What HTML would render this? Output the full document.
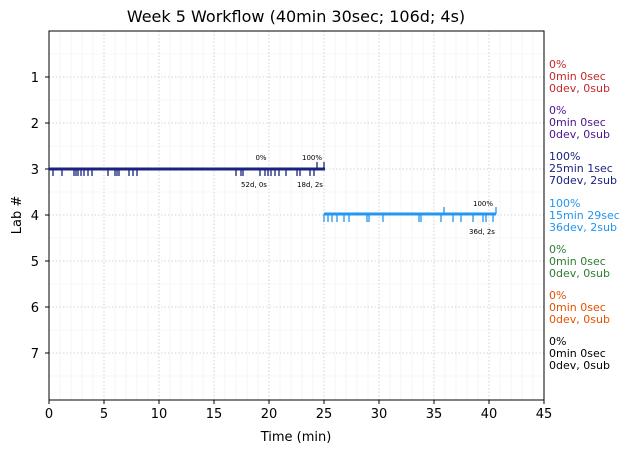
<!DOCTYPE html>
<html><head><meta charset="utf-8"><style>body{margin:0;background:#fff}svg{font-family:"DejaVu Sans","Liberation Sans",sans-serif}</style></head><body>
<svg width="630" height="453" viewBox="0 0 630 453" xmlns="http://www.w3.org/2000/svg">
<rect width="630" height="453" fill="#fff"/>
<text x="296" y="22" font-size="16" text-anchor="middle">Week 5 Workflow (40min 30sec; 106d; 4s)</text>
<g stroke="#f0f0f0" stroke-width="0.6">
<path d="M60 31V400M71 31V400M82 31V400M93 31V400M115 31V400M126 31V400M137 31V400M148 31V400M170 31V400M181 31V400M192 31V400M203 31V400M225 31V400M236 31V400M247 31V400M258 31V400M280 31V400M291 31V400M302 31V400M313 31V400M335 31V400M346 31V400M357 31V400M368 31V400M390 31V400M401 31V400M412 31V400M423 31V400M445 31V400M456 31V400M467 31V400M478 31V400M500 31V400M511 31V400M522 31V400M533 31V400"/>
<path d="M49 54H544M49 100H544M49 146H544M49 192H544M49 238H544M49 284H544M49 330H544M49 376H544"/>
</g>
<g stroke="#c8c8c8" stroke-width="0.8" stroke-dasharray="1.5,2">
<path d="M104 31V400M159 31V400M214 31V400M269 31V400M324 31V400M379 31V400M434 31V400M489 31V400"/>
<path d="M49 77H544M49 123H544M49 169H544M49 215H544M49 261H544M49 307H544M49 353H544"/>
</g>
<rect x="49" y="31" width="495" height="369" fill="none" stroke="#000" stroke-width="1"/>
<g stroke="#000"><path d="M49 400v4M104 400v4M159 400v4M214 400v4M269 400v4M324 400v4M379 400v4M434 400v4M489 400v4M544 400v4M49 77h-4M49 123h-4M49 169h-4M49 215h-4M49 261h-4M49 307h-4M49 353h-4"/></g>
<g font-size="13" text-anchor="middle">
<text x="49" y="418">0</text><text x="104" y="418">5</text><text x="159" y="418">10</text><text x="214" y="418">15</text><text x="269" y="418">20</text><text x="324" y="418">25</text><text x="379" y="418">30</text><text x="434" y="418">35</text><text x="489" y="418">40</text><text x="544" y="418">45</text>
</g>
<g font-size="13" text-anchor="end">
<text x="39" y="82">1</text><text x="39" y="128">2</text><text x="39" y="174">3</text><text x="39" y="220">4</text><text x="39" y="266">5</text><text x="39" y="312">6</text><text x="39" y="358">7</text>
</g>
<text x="296" y="441" font-size="13" text-anchor="middle">Time (min)</text>
<text x="21" y="215" font-size="13" text-anchor="middle" transform="rotate(-90 21 215)">Lab #</text>
<path d="M49 169H325" stroke="#1a237e" stroke-width="3"/>
<g stroke="#1a237e" stroke-width="1.3" fill="none">
<path d="M53 169v7M62 169v7M74 169v7M76 169v7M78 169v7M81 169v7M84 169v7M88 169v7M92 169v7M108 169v7M115 169v7M117 169v7M119 169v7M129 169v7M133 169v7M137 169v7M236 169v7M241 169v7M243 169v7M260 169v7M265 169v7M268 169v7M271 169v7M275 169v7M279 169v7M286 169v7M297 169v7M300 169v7M310 169v7M314 169v7M317 169v-7M324 169v-7"/>
</g>
<g font-size="7" text-anchor="middle"><text x="261" y="160">0%</text><text x="312" y="160">100%</text><text x="254" y="187">52d, 0s</text><text x="310" y="187">18d, 2s</text></g>
<path d="M324 214H496" stroke="#2196f3" stroke-width="3"/>
<g stroke="#2196f3" stroke-width="1.3" fill="none">
<path d="M324 214v8M328 214v8M332 214v8M337 214v8M344 214v8M349 214v8M367 214v8M369 214v8M383 214v8M419 214v8M421 214v8M441 214v8M453 214v8M461 214v8M473 214v8M483 214v8M486 214v8M493 214v8M444 214v-7M496 214v-7"/>
</g>
<g font-size="7" text-anchor="middle"><text x="483" y="206">100%</text><text x="482" y="234">36d, 2s</text></g>
<g font-size="11">
<text x="549" y="68" fill="#c62828">0%</text><text x="549" y="80" fill="#c62828">0min 0sec</text><text x="549" y="92" fill="#c62828">0dev, 0sub</text>
<text x="549" y="114" fill="#4a148c">0%</text><text x="549" y="126" fill="#4a148c">0min 0sec</text><text x="549" y="138" fill="#4a148c">0dev, 0sub</text>
<text x="549" y="160" fill="#1a237e">100%</text><text x="549" y="172" fill="#1a237e">25min 1sec</text><text x="549" y="184" fill="#1a237e">70dev, 2sub</text>
<text x="549" y="207" fill="#2196f3">100%</text><text x="549" y="219" fill="#2196f3">15min 29sec</text><text x="549" y="231" fill="#2196f3">36dev, 2sub</text>
<text x="549" y="253" fill="#2e7d32">0%</text><text x="549" y="265" fill="#2e7d32">0min 0sec</text><text x="549" y="277" fill="#2e7d32">0dev, 0sub</text>
<text x="549" y="299" fill="#e65100">0%</text><text x="549" y="311" fill="#e65100">0min 0sec</text><text x="549" y="323" fill="#e65100">0dev, 0sub</text>
<text x="549" y="345" fill="#000">0%</text><text x="549" y="357" fill="#000">0min 0sec</text><text x="549" y="369" fill="#000">0dev, 0sub</text>
</g>
</svg>
</body></html>
